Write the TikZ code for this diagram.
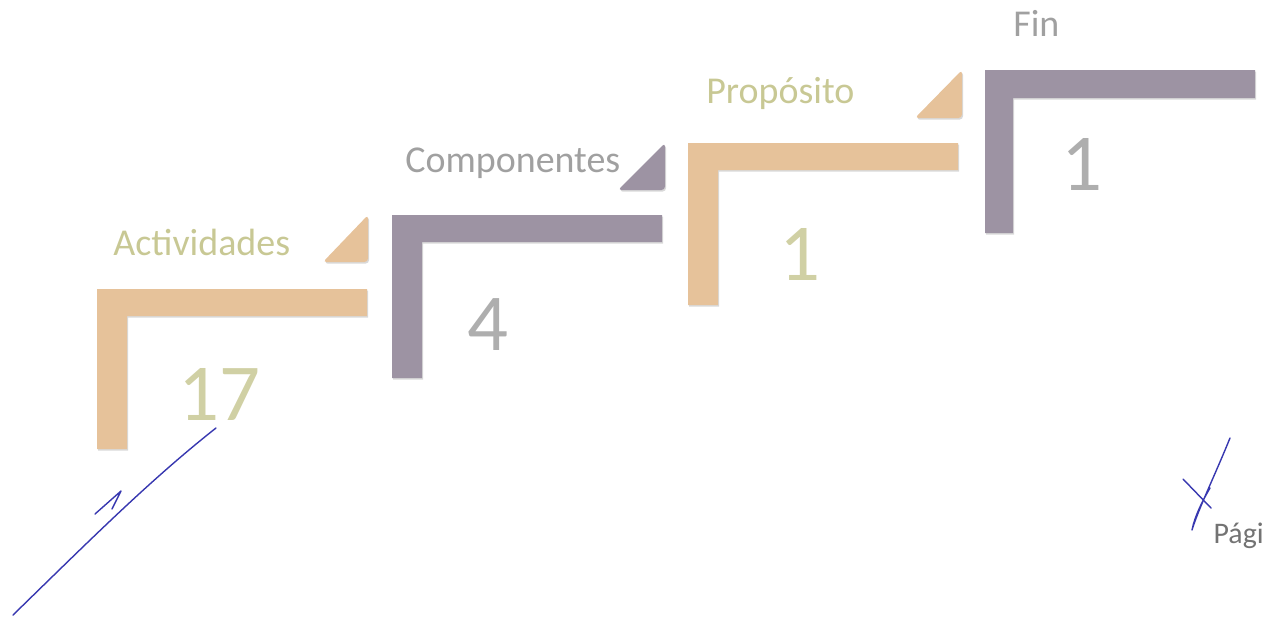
\documentclass[tikz,border=0pt]{standalone}
\usepackage{fontspec}
\setmainfont{Carlito}
\usepackage{xcolor}
\usetikzlibrary{shadows}
\definecolor{stepTan}{HTML}{E6C29A}
\definecolor{stepGray}{HTML}{9D93A3}
\definecolor{labelKhaki}{HTML}{C8C894}
\definecolor{labelGray}{HTML}{A0A0A0}
\definecolor{numKhaki}{HTML}{D0D0A4}
\definecolor{numGray}{HTML}{AEAEAE}
\definecolor{inkBlue}{HTML}{3838B0}
\tikzstyle{tanstep}=[fill=stepTan, draw=none, drop shadow={opacity=0.3, shadow xshift=0.6pt, shadow yshift=-0.9pt}]
\tikzstyle{graystep}=[fill=stepGray, draw=none, drop shadow={opacity=0.3, shadow xshift=0.6pt, shadow yshift=-0.9pt}]
\tikzstyle{khakilabel}=[text=labelKhaki, anchor=base west, font=\fontsize{21.6pt}{24pt}\selectfont]
\tikzstyle{graylabel}=[text=labelGray, anchor=base west, font=\fontsize{21.6pt}{24pt}\selectfont]
\tikzstyle{khakinum}=[text=numKhaki, anchor=base, font=\fontsize{46pt}{50pt}\selectfont]
\tikzstyle{graynum}=[text=numGray, anchor=base, font=\fontsize{46pt}{50pt}\selectfont]
\tikzstyle{ink}=[draw=inkBlue, line width=0.8pt, line cap=round, line join=round]

\begin{document}
\begin{tikzpicture}[x=0.02cm, y=-0.02cm]

\tikzset{every node/.style={inner sep=0pt}}
\useasboundingbox (0,0) rectangle (1265,623);

% Steps
\path[tanstep] (97,289) -- ++(270,0) -- ++(0,27) -- ++(-240,0) -- ++(0,133) -- ++(-30,0) -- cycle;
\path[graystep] (392,215) -- ++(270,0) -- ++(0,27) -- ++(-240,0) -- ++(0,136) -- ++(-30,0) -- cycle;
\path[tanstep] (688,143) -- ++(270,0) -- ++(0,27) -- ++(-240,0) -- ++(0,135) -- ++(-30,0) -- cycle;
\path[graystep] (985,70) -- ++(270,0) -- ++(0,28) -- ++(-242,0) -- ++(0,135) -- ++(-28,0) -- cycle;

% Corner triangles
\path[tanstep, rounded corners=2pt] (368,215) -- (368,262) -- (323,262) -- cycle;
\path[graystep, rounded corners=2pt] (665,143) -- (665,190) -- (618,190) -- cycle;
\path[tanstep, rounded corners=2pt] (962,70) -- (962,118) -- (915,118) -- cycle;

% Step labels
\node[khakilabel] (actividades) at (113,255) {Actividades};
\node[graylabel] (componentes) at (405,172) {Componentes};
\node[khakilabel] (proposito) at (706,103) {Propósito};
\node[graylabel] (fin) at (1013,36) {Fin};

% Counts
\node[khakinum] (nact) at (219,420) {17};
\node[graynum] (ncomp) at (488,350) {4};
\node[khakinum] (nprop) at (800,280) {1};
\node[graynum] (nfin) at (1082,190) {1};

% Page mark
\node[anchor=base east, text=black!55, font=\fontsize{17pt}{19pt}\selectfont] (pagina) at (1264,543) {Pági};

% Handwritten marks
\draw[ink] (13,615) .. controls (90,540) and (150,480) .. (216,428);
\draw[ink] (95,514) -- (121,491) -- (112,509);
\draw[ink] (1230,438) .. controls (1215,475) and (1198,510) .. (1192,530) .. controls (1195,515) and (1203,500) .. (1210,488);
\draw[ink] (1183,479) -- (1211,508);

\end{tikzpicture}
\end{document}
